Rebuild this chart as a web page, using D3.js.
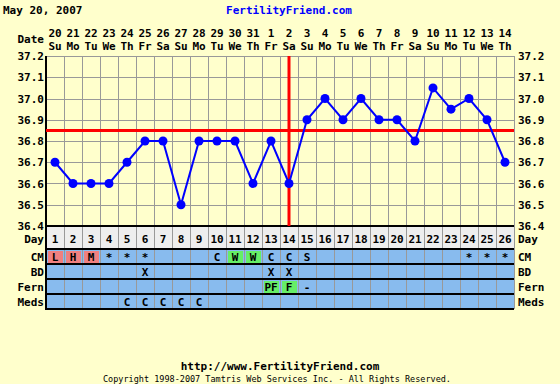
<!DOCTYPE html>
<html>
<head>
<meta charset="utf-8">
<script src="https://cdn.jsdelivr.net/npm/d3@7"></script>
<style>
body { margin:0; background:#ffffcc; }
text { font-family: "DejaVu Sans Mono", monospace; font-weight: bold; }
</style>
</head>
<body>
<div id="chart"></div>
<script>
var days = d3.range(1, 27);
var dates = ["20","21","22","23","24","25","26","27","28","29","30","31","1","2","3","4","5","6","7","8","9","10","11","12","13","14"];
var weekdays = ["Su","Mo","Tu","We","Th","Fr","Sa","Su","Mo","Tu","We","Th","Fr","Sa","Su","Mo","Tu","We","Th","Fr","Sa","Su","Mo","Tu","We","Th"];
var temps = [36.7,36.6,36.6,36.6,36.7,36.8,36.8,36.5,36.8,36.8,36.8,36.6,36.8,36.6,36.9,37.0,36.9,37.0,36.9,36.9,36.8,37.05,36.95,37.0,36.9,36.7];
var yTicks = [36.4,36.5,36.6,36.7,36.8,36.9,37.0,37.1,37.2];
var coverline = 36.85;
var ovulationDay = 14;
var rowNames = ["CM","BD","Fern","Meds"];
var cm   = ["L","H","M","*","*","*","","","","C","W","W","C","C","S","","","","","","","","","*","*","*"];
var bd   = ["","","","","","X","","","","","","","X","X","","","","","","","","","","","",""];
var fern = ["","","","","","","","","","","","","PF","F","-","","","","","","","","","","",""];
var meds = ["","","","","C","C","C","C","C","","","","","","","","","","","","","","","","",""];
var rowData = [cm, bd, fern, meds];
var pinkCodes = ["L","H","M"];
var greenCodes = ["W","PF","F"];

var W = 560, H = 384;
var svg = d3.select("#chart").append("svg").attr("width", W).attr("height", H);
svg.append("rect").attr("width", W).attr("height", H).attr("fill", "#ffffcc");

var x = d3.scaleBand().domain(days).range([46, 514]);
var y = d3.scaleLinear().domain([36.4, 37.2]).range([226, 56]);

// header
svg.append("text").attr("x", 3).attr("y", 14).attr("font-size", 11).text("May 20, 2007");
svg.append("text").attr("x", 289).attr("y", 14).attr("font-size", 11).attr("fill", "#0000ff")
  .attr("text-anchor", "middle").text("FertilityFriend.com");

// dates
var hdr = svg.append("g").attr("font-size", 11).attr("text-anchor", "middle");
hdr.selectAll(".dt").data(days).enter().append("text")
  .attr("x", function(d) { return x(d) + x.bandwidth() / 2; }).attr("y", 37)
  .text(function(d, i) { return dates[i]; });
hdr.selectAll(".wd").data(days).enter().append("text")
  .attr("x", function(d) { return x(d) + x.bandwidth() / 2; }).attr("y", 50)
  .text(function(d, i) { return weekdays[i]; });
svg.append("text").attr("x", 44).attr("y", 43).attr("font-size", 11).attr("text-anchor", "end").text("Date");

// grid
var grid = svg.append("g").attr("stroke", "#999999").attr("stroke-width", 1);
grid.selectAll(".hl").data(yTicks).enter().append("line")
  .attr("x1", 46).attr("x2", 514)
  .attr("y1", function(d) { return Math.round(y(d)) + 0.5; })
  .attr("y2", function(d) { return Math.round(y(d)) + 0.5; });
grid.selectAll(".vl").data(d3.range(0, 27)).enter().append("line")
  .attr("x1", function(d) { return 46 + d * x.bandwidth() + 0.5; })
  .attr("x2", function(d) { return 46 + d * x.bandwidth() + 0.5; })
  .attr("y1", 56).attr("y2", 226);

// y labels
var yl = svg.append("g").attr("font-size", 11);
yl.selectAll(".l").data(yTicks).enter().append("text")
  .attr("x", 44).attr("y", function(d) { return y(d) + 4; }).attr("text-anchor", "end")
  .text(function(d) { return d.toFixed(1); });
yl.selectAll(".r").data(yTicks).enter().append("text")
  .attr("x", 518).attr("y", function(d) { return y(d) + 4; })
  .text(function(d) { return d.toFixed(1); });

// table
var rowTop = [249, 264, 279, 294], rowH = 15;
svg.append("rect").attr("x", 46).attr("y", 226).attr("width", 468).attr("height", 23).attr("fill", "#eeeeee");
svg.append("rect").attr("x", 46).attr("y", 249).attr("width", 468).attr("height", 60).attr("fill", "#88bbee");

var tbl = svg.append("g");
tbl.selectAll(".vl").data(d3.range(0, 27)).enter().append("line")
  .attr("x1", function(d) { return 46 + d * x.bandwidth() + 0.5; })
  .attr("x2", function(d) { return 46 + d * x.bandwidth() + 0.5; })
  .attr("y1", 226).attr("y2", 309).attr("stroke", "#999999");

rowData.forEach(function(row, r) {
  var g = svg.append("g");
  g.selectAll("rect").data(days.filter(function(d, i) {
      return pinkCodes.indexOf(row[i]) >= 0 || greenCodes.indexOf(row[i]) >= 0; }))
    .enter().append("rect")
    .attr("x", function(d) { return x(d) + 2; }).attr("y", rowTop[r] + 2)
    .attr("width", x.bandwidth() - 3).attr("height", rowH - 3)
    .attr("fill", function(d) { return pinkCodes.indexOf(row[d - 1]) >= 0 ? "#f08080" : "#66ee66"; });
  g.selectAll("text").data(days).enter().append("text")
    .attr("x", function(d) { return x(d) + x.bandwidth() / 2; }).attr("y", rowTop[r] + 12)
    .attr("font-size", 11).attr("text-anchor", "middle")
    .text(function(d, i) { return row[i]; });
  svg.append("text").attr("x", 44).attr("y", rowTop[r] + 12).attr("font-size", 11)
    .attr("text-anchor", "end").text(rowNames[r]);
  svg.append("text").attr("x", 518).attr("y", rowTop[r] + 12).attr("font-size", 11)
    .text(rowNames[r]);
});

var hl = svg.append("g").attr("stroke", "#000000").attr("stroke-width", 2);
[226, 249, 264, 279, 294, 309].forEach(function(v) {
  hl.append("line").attr("x1", 46).attr("x2", 514).attr("y1", v).attr("y2", v);
});
svg.append("line").attr("x1", 46).attr("x2", 46).attr("y1", 56).attr("y2", 310)
  .attr("stroke", "#000000").attr("stroke-width", 2);

svg.append("g").attr("font-size", 11).attr("text-anchor", "middle")
  .selectAll("text").data(days).enter().append("text")
  .attr("x", function(d) { return x(d) + x.bandwidth() / 2; }).attr("y", 243)
  .text(function(d) { return d; });
svg.append("text").attr("x", 44).attr("y", 243).attr("font-size", 11).attr("text-anchor", "end").text("Day");
svg.append("text").attr("x", 518).attr("y", 243).attr("font-size", 11).text("Day");

// cover line & ovulation
svg.append("line").attr("x1", 46).attr("x2", 514).attr("y1", y(coverline)).attr("y2", y(coverline))
  .attr("stroke", "#ff0000").attr("stroke-width", 3);
svg.append("line")
  .attr("x1", x(ovulationDay) + x.bandwidth() / 2).attr("x2", x(ovulationDay) + x.bandwidth() / 2)
  .attr("y1", 56).attr("y2", 226).attr("stroke", "#ff0000").attr("stroke-width", 3);

// temperatures
var line = d3.line()
  .x(function(d, i) { return x(days[i]) + x.bandwidth() / 2; })
  .y(function(d) { return y(d); });
svg.append("path").datum(temps).attr("d", line).attr("fill", "none")
  .attr("stroke", "#0000ff").attr("stroke-width", 2);
svg.selectAll(".pt").data(temps).enter().append("circle")
  .attr("cx", function(d, i) { return x(days[i]) + x.bandwidth() / 2; })
  .attr("cy", function(d) { return y(d); }).attr("r", 4.5).attr("fill", "#0000ff");

// footer
svg.append("text").attr("x", 280).attr("y", 370).attr("font-size", 11).attr("text-anchor", "middle")
  .text("http://www.FertilityFriend.com");
svg.append("text").attr("x", 277).attr("y", 382).attr("font-size", 8.5).style("font-weight", "normal")
  .attr("text-anchor", "middle")
  .text("Copyright 1998-2007 Tamtris Web Services Inc. - All Rights Reserved.");
</script>
</body>
</html>
